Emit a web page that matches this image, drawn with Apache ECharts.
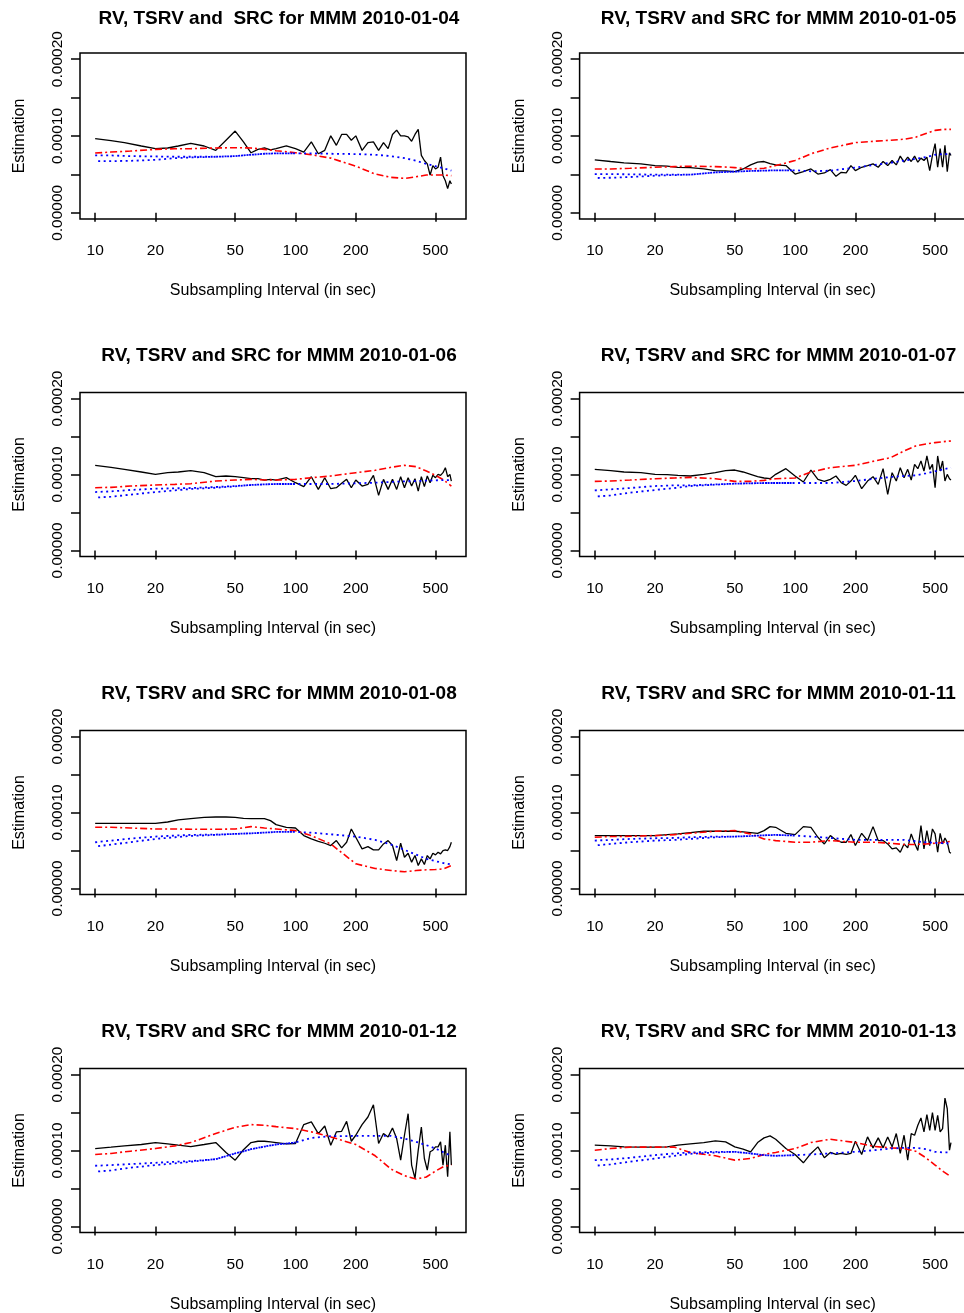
<!DOCTYPE html>
<html><head><meta charset="utf-8">
<script src="https://cdn.jsdelivr.net/npm/echarts@6/dist/echarts.min.js"></script>
<style>html,body{margin:0;padding:0;background:#fff}#c{width:964px;height:1313px}</style>
</head><body><div id="c"></div>
<script>
// ---- data (estimates in units of 1e-5) ----
const titles = [
  'RV, TSRV and  SRC for MMM 2010-01-04',
  'RV, TSRV and SRC for MMM 2010-01-05',
  'RV, TSRV and SRC for MMM 2010-01-06',
  'RV, TSRV and SRC for MMM 2010-01-07',
  'RV, TSRV and SRC for MMM 2010-01-08',
  'RV, TSRV and SRC for MMM 2010-01-11',
  'RV, TSRV and SRC for MMM 2010-01-12',
  'RV, TSRV and SRC for MMM 2010-01-13'
];
const xTicks = [10, 20, 50, 100, 200, 500];
const yTicks = [0, 0.00005, 0.0001, 0.00015, 0.0002];
const yLabelTicks = [0, 0.0001, 0.0002];
const UNIT = 1e-5;

const xRV = [10,12,14,17,20,23,26,30,35,40,45,50,55,60,65,70,75,80,90,100,110,120,130,140,150,160,170,180,190,200,215,230,245,260,275,290,305,320,335,350,365,380,395,410,425,440,455,470,485,500,515,530,545,560,575,590,600];
const xSmooth = [10,12,15,20,25,30,40,50,60,70,80,100,120,150,200,250,300,350,400,450,500,550,600];
const xSrcB = [10,12,15,20,25,30,40,50,60,70,80,100];

const rv04 = [9.67,9.41,9.14,8.70,8.35,8.44,8.70,9.05,8.70,8.13,9.45,10.64,9.23,7.82,8.26,8.44,8.18,8.35,8.70,8.35,7.91,9.23,7.69,8.13,10.02,8.79,10.2,10.2,9.45,10.02,8.13,9.14,9.23,8.13,9.14,8.35,10.2,10.77,10.02,10.02,9.89,9.32,10.2,10.86,7.47,6.81,6.37,4.92,6.15,5.71,5.93,7.25,4.84,4.18,3.16,4.18,3.74];
const tsrv04 = [7.78,7.91,8.04,8.26,8.35,8.35,8.44,8.48,8.44,8.26,8.09,7.82,7.56,7.12,6.07,5.05,4.62,4.48,4.70,4.92,4.92,4.92,4.84];
const srcA04 = [7.47,7.47,7.38,7.34,7.30,7.30,7.30,7.38,7.56,7.69,7.74,7.74,7.74,7.69,7.65,7.56,7.38,7.12,6.77,6.37,6.07,5.80,5.49];
const srcB04 = [6.73,6.73,6.77,6.90,7.12,7.21,7.30,7.38,7.56,7.69,7.74,7.74];

const rv05 = [6.90,6.68,6.51,6.37,6.15,6.07,5.93,5.89,5.71,5.49,5.45,5.36,5.71,6.24,6.59,6.68,6.42,6.24,6.15,5.05,5.36,5.71,5.05,5.19,5.63,4.75,5.27,5.19,6.15,5.49,5.93,6.15,6.37,5.93,6.68,6.15,6.81,6.24,7.38,6.59,7.25,6.68,7.38,6.59,7.12,6.81,7.25,5.49,7.47,9.01,5.93,8.35,5.93,8.79,5.36,7.82,7.47];
const tsrv05 = [5.71,5.71,5.80,5.93,6.02,6.07,6.02,5.89,5.71,5.80,6.15,6.81,7.69,8.44,9.14,9.32,9.45,9.58,9.85,10.33,10.73,10.86,10.86];
const srcA05 = [5.05,5.05,5.01,4.97,4.97,4.97,5.27,5.36,5.45,5.49,5.54,5.54,5.41,5.49,5.89,6.24,6.51,6.81,7.03,7.25,7.56,7.65,7.65];
const srcB05 = [4.53,4.57,4.66,4.84,4.92,4.97,5.27,5.36,5.45,5.49,5.54,5.54];

const rv06 = [11.21,10.95,10.68,10.33,10.02,10.24,10.33,10.51,10.24,9.71,9.80,9.71,9.58,9.45,9.45,9.27,9.36,9.27,9.58,8.92,8.40,9.71,8.04,9.58,8.13,8.26,8.84,9.36,8.26,9.27,8.48,8.70,9.89,7.25,9.36,8.04,9.36,8.04,9.71,8.26,9.58,8.48,9.45,7.82,9.71,8.40,9.80,8.92,9.89,9.58,10.02,9.89,10.24,10.90,9.71,10.02,9.14];
const tsrv06 = [8.26,8.31,8.48,8.62,8.70,8.79,9.14,9.27,9.36,9.27,9.27,9.36,9.58,9.80,10.24,10.55,10.95,11.21,11.03,10.46,9.89,9.27,8.48];
const srcA06 = [7.69,7.78,7.96,8.13,8.18,8.22,8.35,8.48,8.62,8.70,8.75,8.75,8.75,8.75,8.84,8.92,9.01,9.10,9.14,9.19,9.23,9.27,9.27];
const srcB06 = [6.95,7.08,7.34,7.69,7.91,8.09,8.26,8.44,8.62,8.70,8.75,8.75];

const rv07 = [10.68,10.51,10.33,10.24,10.02,9.98,9.89,9.80,10.02,10.24,10.51,10.59,10.33,10.02,9.71,9.54,9.45,10.02,10.77,9.80,9.01,10.59,9.36,9.10,9.36,9.80,8.92,8.57,9.14,9.89,8.13,9.14,9.71,8.70,10.77,7.38,10.24,9.14,10.90,9.58,10.68,9.27,11.34,10.77,11.78,10.46,12.44,10.68,11.34,8.26,12.44,10.46,11.78,9.14,10.02,9.45,9.27];
const tsrv07 = [9.10,9.14,9.27,9.45,9.54,9.62,9.45,9.10,9.10,9.23,9.45,9.54,10.33,10.90,11.21,11.78,12.22,13.10,13.76,14.02,14.20,14.33,14.42];
const srcA07 = [7.91,8.04,8.22,8.48,8.57,8.57,8.70,8.79,8.84,8.88,8.88,8.88,8.88,8.88,9.14,9.45,9.67,9.80,9.89,10.15,10.42,10.68,10.90];
const srcB07 = [7.08,7.25,7.60,7.96,8.22,8.48,8.66,8.79,8.84,8.88,8.88,8.88];

const rv08 = [8.58,8.58,8.58,8.58,8.58,8.75,9.02,9.19,9.37,9.41,9.41,9.37,9.23,9.19,9.19,9.19,8.93,8.40,8.05,7.96,6.96,6.52,6.21,5.95,5.65,6.30,5.34,6.08,7.83,6.74,5.21,5.51,5.08,5.08,5.86,6.30,5.65,3.68,5.95,4.11,4.64,3.46,4.33,3.02,3.89,3.15,4.33,3.89,4.64,4.42,4.77,4.55,4.99,5.08,4.99,5.51,6.08];
const tsrv08 = [8.05,8.05,7.96,7.83,7.83,7.79,7.79,7.83,8.14,7.96,7.83,7.61,6.96,5.86,3.24,2.63,2.36,2.19,2.36,2.45,2.49,2.58,3.02];
const srcA08 = [6.08,6.30,6.56,6.83,6.96,7.05,7.09,7.18,7.26,7.35,7.44,7.44,7.35,7.13,6.83,6.39,5.78,5.08,4.46,3.89,3.59,3.33,3.15];
const srcB08 = [5.51,5.78,6.08,6.52,6.74,6.91,7.05,7.18,7.26,7.35,7.44,7.44];

const rv11 = [6.96,6.96,6.96,6.96,6.96,7.09,7.18,7.35,7.53,7.53,7.53,7.53,7.44,7.35,7.26,7.61,8.14,8.05,7.26,7.09,8.14,8.05,6.74,5.86,6.96,6.39,6.08,6.08,7.09,5.65,7.26,6.30,8.14,6.30,6.30,5.86,5.21,5.34,4.77,5.86,5.34,7.18,5.95,4.99,8.27,5.21,7.61,5.65,7.83,7.18,4.77,7.26,5.86,6.65,6.08,4.77,4.64];
const tsrv11 = [6.74,6.83,6.87,6.96,7.09,7.26,7.53,7.61,7.18,6.52,6.30,6.08,6.08,6.30,6.08,6.08,5.95,5.78,5.78,5.86,5.95,6.08,6.21];
const srcA11 = [6.30,6.39,6.52,6.61,6.65,6.74,6.83,6.83,6.91,7.00,7.05,6.96,6.83,6.65,6.39,6.39,6.39,6.39,6.21,6.08,6.00,5.95,5.95];
const srcB11 = [5.65,5.86,6.08,6.30,6.39,6.52,6.74,6.83,6.91,7.00,7.05,6.96];

const rv12 = [10.26,10.44,10.61,10.79,11.05,10.87,10.70,10.52,10.79,11.05,9.74,8.73,10.10,11.05,11.22,11.22,11.14,11.05,10.87,10.92,13.41,13.76,12.23,13.23,10.70,12.45,12.53,13.84,11.22,12.01,13.41,14.41,16.03,10.92,12.23,11.79,12.97,11.57,8.73,12.01,14.85,8.08,6.33,10.04,13.10,8.95,7.42,9.83,10.04,10.48,10.48,11.14,8.08,10.70,6.55,12.45,8.08];
const tsrv12 = [9.48,9.61,9.91,10.26,10.61,11.05,12.23,13.06,13.41,13.32,13.14,12.88,12.45,11.79,10.79,9.30,7.55,6.68,6.24,6.51,7.29,7.90,8.08];
const srcA12 = [7.99,8.08,8.21,8.38,8.52,8.60,8.86,9.61,10.17,10.52,10.79,11.05,11.66,11.88,11.92,11.92,11.92,11.57,11.14,10.70,10.26,9.74,9.30];
const srcB12 = [7.21,7.38,7.73,8.08,8.30,8.52,8.86,9.61,10.17,10.52,10.79,11.05];

const rv13 = [10.70,10.61,10.48,10.44,10.44,10.48,10.70,10.87,11.05,11.27,11.14,10.48,10.17,9.83,11.05,11.66,11.92,11.48,10.26,9.48,8.38,9.61,10.48,9.04,9.74,9.48,9.61,9.48,9.61,11.22,9.48,11.79,10.35,11.66,10.35,11.79,10.48,12.23,9.61,12.01,8.73,12.23,12.01,13.32,14.28,12.45,14.72,12.66,14.98,12.66,14.63,12.45,12.88,16.90,15.50,10.04,11.05];
const tsrv13 = [10.04,10.26,10.44,10.44,10.44,9.74,9.30,8.73,8.95,9.48,9.74,10.26,11.05,11.48,11.05,10.52,10.35,10.26,9.91,9.04,8.08,7.21,6.55];
const srcA13 = [8.73,8.82,9.04,9.39,9.61,9.74,9.83,9.83,9.61,9.39,9.30,9.39,9.48,9.61,9.83,10.04,10.26,10.35,10.35,10.17,9.83,9.74,9.74];
const srcB13 = [7.99,8.17,8.52,8.95,9.30,9.56,9.74,9.83,9.61,9.39,9.30,9.39];

const rvList = [rv04, rv05, rv06, rv07, rv08, rv11, rv12, rv13];
const tsrvList = [tsrv04, tsrv05, tsrv06, tsrv07, tsrv08, tsrv11, tsrv12, tsrv13];
const srcAList = [srcA04, srcA05, srcA06, srcA07, srcA08, srcA11, srcA12, srcA13];
const srcBList = [srcB04, srcB05, srcB06, srcB07, srcB08, srcB11, srcB12, srcB13];

// ---- layout ----
const FONT = '"Liberation Sans", Arial, sans-serif';
const colLeft = [80, 579.6];
const colTitleX = [279, 778.5];
const rowTop = [53, 392.5, 730.5, 1068.5];
const rowH = [166, 164, 164, 164];
const rowTitleY = [18.3, 355.5, 693.5, 1032];
const pairs = (xs, ys) => xs.map((x, i) => [x, ys[i] * UNIT]);

const grids = [], xAxes = [], yAxes = [], series = [], titleOpts = [];
for (let i = 0; i < 8; i++) {
  const r = Math.floor(i / 2), c = i % 2;
  grids.push({left: colLeft[c], top: rowTop[r], width: 386, height: rowH[r],
    show: true, borderColor: '#000', borderWidth: 1.5, backgroundColor: 'transparent',
    containLabel: false, outerBoundsMode: 'none'});
  titleOpts.push({text: titles[i], left: colTitleX[c], top: rowTitleY[r], padding: 0,
    textAlign: 'center', textVerticalAlign: 'middle',
    textStyle: {fontFamily: FONT, fontSize: 19, fontWeight: 'bold', color: '#000'}});
  xAxes.push({type: 'log', logBase: 10, gridIndex: i, min: 8.4, max: 710,
    name: 'Subsampling Interval (in sec)', nameLocation: 'middle', nameGap: 64,
    nameTextStyle: {fontFamily: FONT, fontSize: 16, color: '#000'},
    axisLine: {show: false},
    axisTick: {show: true, inside: false, length: 9, customValues: xTicks, lineStyle: {color: '#000', width: 1.5}},
    axisLabel: {show: true, customValues: xTicks, margin: 24, fontFamily: FONT, fontSize: 15.5, color: '#000',
      formatter: v => String(Math.round(v))},
    splitLine: {show: false}, minorTick: {show: false}, minorSplitLine: {show: false}});
  yAxes.push({type: 'value', gridIndex: i, min: -0.000008, max: 0.000208,
    name: 'Estimation', nameLocation: 'middle', nameGap: 52,
    nameTextStyle: {fontFamily: FONT, fontSize: 16, color: '#000'},
    axisLine: {show: false},
    axisTick: {show: true, inside: false, length: 9, customValues: yTicks, lineStyle: {color: '#000', width: 1.5}},
    axisLabel: {show: true, customValues: yLabelTicks, rotate: 90, margin: 14, fontFamily: FONT, fontSize: 15.5, color: '#000',
      formatter: v => v.toFixed(5)},
    splitLine: {show: false}});
  series.push({type: 'line', xAxisIndex: i, yAxisIndex: i, data: pairs(xRV, rvList[i]),
    showSymbol: false, symbol: 'none', lineStyle: {color: '#000', width: 1.3}, z: 2});
  series.push({type: 'line', xAxisIndex: i, yAxisIndex: i, data: pairs(xSmooth, tsrvList[i]),
    showSymbol: false, symbol: 'none', lineStyle: {color: '#ff0000', width: 1.6, type: [7, 3, 2, 3]}, z: 3});
  series.push({type: 'line', xAxisIndex: i, yAxisIndex: i, data: pairs(xSmooth, srcAList[i]),
    showSymbol: false, symbol: 'none', lineStyle: {color: '#0000ff', width: 1.8, type: [2, 3.5]}, z: 4});
  series.push({type: 'line', xAxisIndex: i, yAxisIndex: i, data: pairs(xSrcB, srcBList[i]),
    showSymbol: false, symbol: 'none', lineStyle: {color: '#0000ff', width: 1.8, type: [2, 3.5], dashOffset: 2.5}, z: 4});
}

const chart = echarts.init(document.getElementById('c'), null, {renderer: 'canvas'});
chart.setOption({
  backgroundColor: '#fff', animation: false,
  title: titleOpts, grid: grids, xAxis: xAxes, yAxis: yAxes, series: series,
  tooltip: {show: false}
});
</script></body></html>
